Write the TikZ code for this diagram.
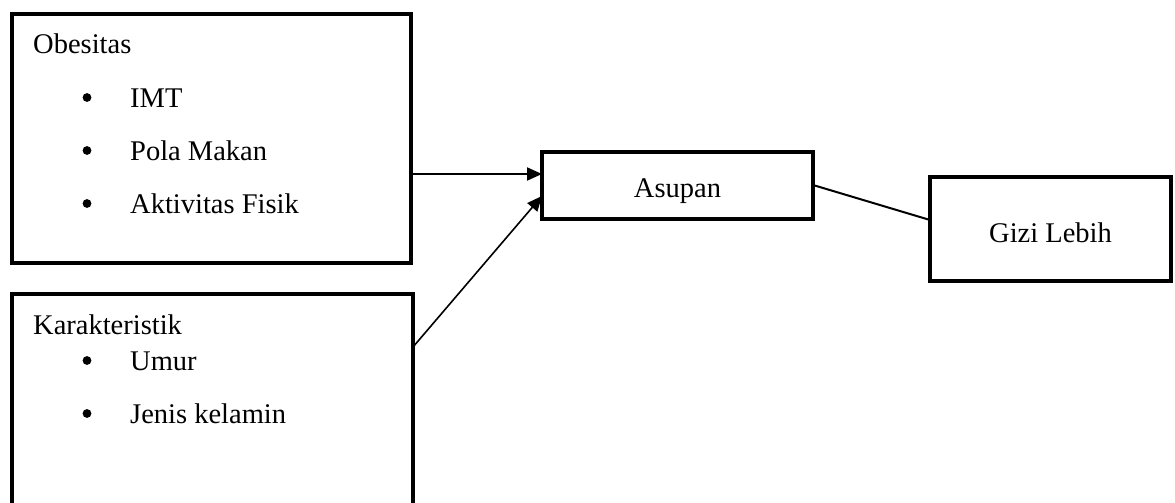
\documentclass[tikz,border=0pt]{standalone}
\usepackage{fontspec}
\setmainfont{Liberation Serif}
\usetikzlibrary{arrows.meta}
\begin{document}
\begin{tikzpicture}[x=1pt,y=-1pt,
  box/.style={draw, line width=4pt, rectangle, inner sep=0pt, outer sep=0pt},
  txt/.style={inner sep=0pt, anchor=base west, font=\fontsize{28.5}{34}\selectfont},
  ctr/.style={inner sep=0pt, anchor=base, font=\fontsize{28.5}{34}\selectfont},
  bul/.style={circle, fill, inner sep=0pt, minimum size=8.8pt},
  conn/.style={line width=2pt},
  arr/.style={line width=2pt, -{Triangle[length=15pt,width=13pt]}}]
\useasboundingbox (0,0) rectangle (1175,503);
\clip (0,0) rectangle (1175,503);
\fill[white] (0,0) rectangle (1175,503);

% boxes
\node[box, minimum width=399pt, minimum height=249pt] (obes) at (211.5,138.5) {};
\node[box, minimum width=401pt, minimum height=266pt] (kar) at (212.5,427) {};
\node[box, minimum width=271pt, minimum height=67pt] (asup) at (677.5,185.5) {};
\node[box, minimum width=241pt, minimum height=104pt] (gizi) at (1050.5,229) {};

% box texts with bullet lists
\node[txt] (t1) at (33,53) {Obesitas};
\node[bul] (b1) at (87,97.5) {};
\node[txt] (i1) at (130,107) {IMT};
\node[bul] (b2) at (87,150.5) {};
\node[txt] (i2) at (130,160) {Pola Makan};
\node[bul] (b3) at (87,203.5) {};
\node[txt] (i3) at (130,213) {Aktivitas Fisik};

\node[txt] (t2) at (33,334) {Karakteristik};
\node[bul] (b4) at (87,360.5) {};
\node[txt] (i4) at (130,370) {Umur};
\node[bul] (b5) at (87,413.5) {};
\node[txt] (i5) at (130,423) {Jenis kelamin};

\node[ctr] (ta) at (677.5,197) {Asupan};
\node[ctr] (tg) at (1050.5,242) {Gizi Lebih};

% connectors
\draw[arr] (obes.east |- 0,174) -- (asup.west |- 0,174);
\draw[arr, line width=1.6pt] (kar.east |- 0,347) -- (asup.west |- 0,196);
\draw[conn] (asup.east |- 0,185) -- (gizi.west |- 0,220);
\end{tikzpicture}
\end{document}
